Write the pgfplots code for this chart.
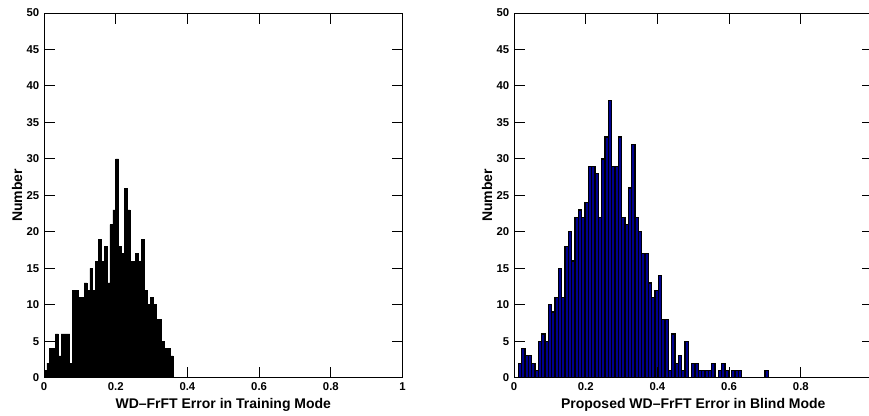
\documentclass[border=0pt]{standalone}
\usepackage{fontspec}
\setmainfont{Liberation Sans}
\usepackage{pgfplots}
\pgfplotsset{compat=1.18}
\usepackage{pgfplotstable}
\definecolor{histblue}{RGB}{0,0,143}

% left bin edge, count
\pgfplotstableread{
x y
0.000 1
0.008 2
0.016 4
0.024 4
0.032 6
0.040 3
0.048 6
0.056 6
0.064 6
0.072 2
0.080 12
0.088 12
0.096 11
0.104 11
0.112 13
0.120 12
0.128 15
0.136 12
0.144 16
0.152 19
0.160 16
0.168 18
0.176 13
0.184 21
0.192 23
0.200 30
0.208 18
0.216 17
0.224 26
0.232 23
0.240 16
0.248 16
0.256 17
0.264 16
0.272 19
0.280 12
0.288 10
0.296 11
0.304 10
0.312 8
0.320 8
0.328 5
0.336 4
0.344 4
0.352 3
0.360 0
}\trainhist

\pgfplotstableread{
x y
0.0120 2
0.0213 4
0.0306 3
0.0399 3
0.0492 2
0.0585 1
0.0678 5
0.0771 6
0.0864 5
0.0957 10
0.1050 9
0.1143 11
0.1236 15
0.1329 11
0.1422 18
0.1515 20
0.1608 16
0.1701 22
0.1794 23
0.1887 22
0.1980 24
0.2073 29
0.2166 29
0.2259 28
0.2352 22
0.2445 30
0.2538 33
0.2631 38
0.2724 29
0.2817 29
0.2910 33
0.3003 22
0.3096 21
0.3189 26
0.3282 32
0.3375 22
0.3468 20
0.3561 17
0.3654 17
0.3747 13
0.3840 11
0.3933 12
0.4026 14
0.4119 8
0.4212 8
0.4305 1
0.4398 6
0.4491 2
0.4584 3
0.4677 1
0.4770 5
0.4863 0
0.4956 2
0.5049 2
0.5142 1
0.5235 1
0.5328 1
0.5421 1
0.5514 2
0.5607 0
0.5700 1
0.5793 2
0.5886 1
0.5979 0
0.6072 1
0.6165 1
0.6258 1
0.6351 0
0.6444 0
0.6537 0
0.6630 0
0.6723 0
0.6816 0
0.6909 0
0.7002 1
0.7095 0
}\blindhist

\pgfplotsset{errhist/.style={
    scale only axis,
    width=268.9pt, height=273.5pt,
    xmin=0, xmax=1, ymin=0, ymax=50,
    xtick={0,0.2,0.4,0.6,0.8,1},
    xticklabels={0,0.2,0.4,0.6,0.8,1},
    ytick={0,5,...,50},
    tick align=inside,
    major tick length=8pt,
    axis line style={line width=0.75pt},
    every tick/.style={black, line width=0.75pt},
    ticklabel style={font=\bfseries\fontsize{8.5}{9}\selectfont},
    /pgf/number format/assume math mode=true,
    label style={font=\bfseries\fontsize{10.5}{12}\selectfont},
    ylabel={Number},
    ylabel style={at={(axis description cs:-0.075,0.5)}, anchor=center},
    xlabel style={at={(axis description cs:0.5,-0.074)}, anchor=center},
    axis on top,
}}

\begin{document}
\begin{tikzpicture}
\useasboundingbox (0pt,0pt) rectangle (651.75pt,312pt);

\begin{axis}[errhist, at={(33pt,28.7pt)}, anchor=south west,
    xlabel={WD--FrFT Error in Training Mode}]
\addplot[ybar interval, fill=black, draw=black, line width=0.5pt] table {\trainhist};
\end{axis}

\begin{axis}[errhist, at={(385.5pt,28.7pt)}, anchor=south west,
    xticklabels={0,0.2,0.4,0.6,0.8,{}},
    xlabel={Proposed WD--FrFT Error in Blind Mode}]
\addplot[ybar interval, fill=histblue, draw=black, line width=0.9pt] table {\blindhist};
\end{axis}
\end{tikzpicture}
\end{document}
